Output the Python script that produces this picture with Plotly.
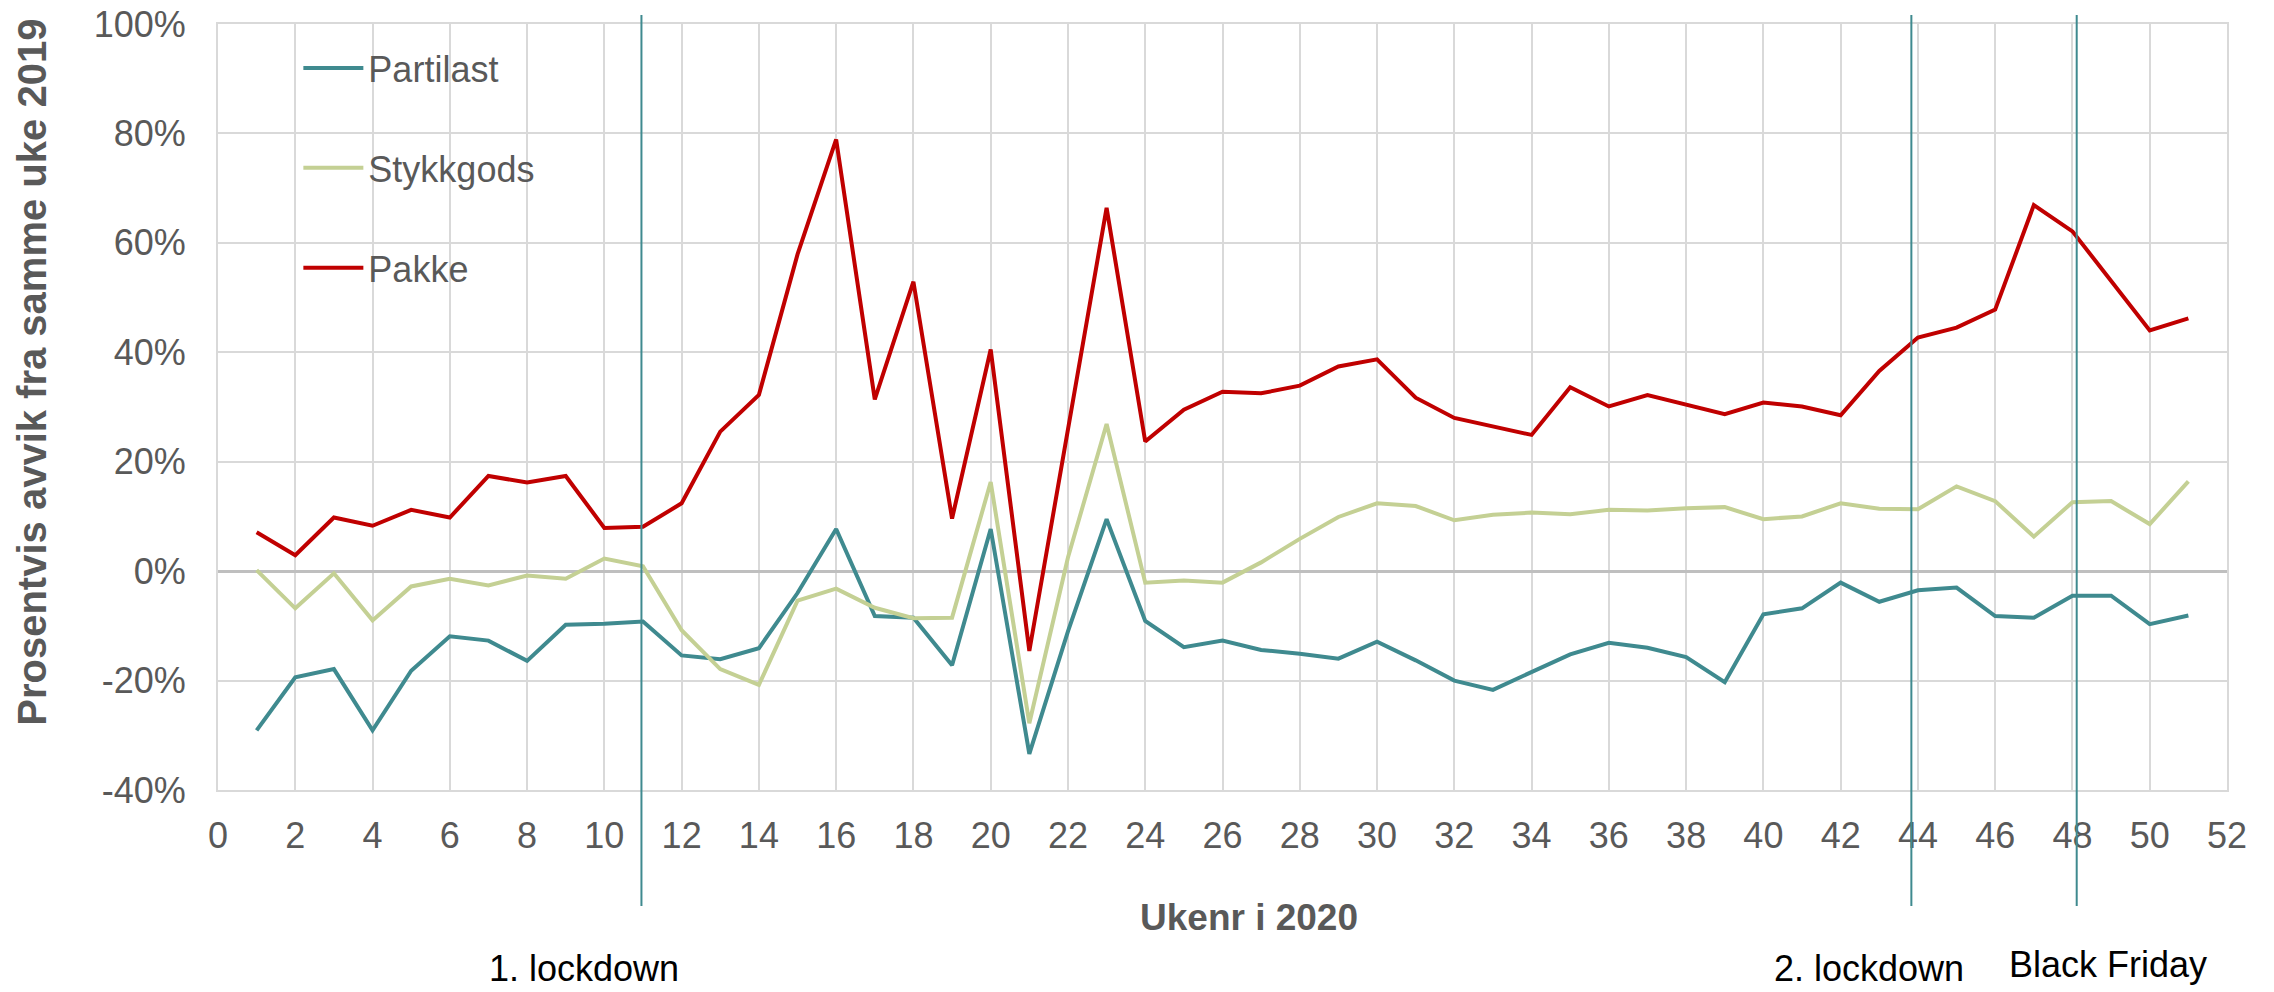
import plotly.graph_objects as go

weeks = list(range(1, 52))

partilast = [-29.1, -19.4, -17.9, -29.1, -18.2, -11.9, -12.7, -16.4, -9.8, -9.6,
             -9.2, -15.4, -16.1, -14.1, -4.0, 7.7, -8.2, -8.5, -17.2, 7.7,
             -33.4, -11.0, 9.5, -9.1, -13.9, -12.7, -14.4, -15.1, -16.0, -12.9,
             -16.3, -20.0, -21.7, -18.4, -15.2, -13.1, -14.0, -15.7, -20.3, -7.9,
             -6.8, -2.1, -5.6, -3.5, -3.0, -8.2, -8.5, -4.5, -4.5, -9.7,
             -8.1]

stykkgods = [0.2, -6.8, -0.4, -9.0, -2.8, -1.4, -2.6, -0.8, -1.4, 2.3,
             0.9, -10.8, -17.9, -20.8, -5.4, -3.2, -6.7, -8.6, -8.5, 16.3,
             -27.8, 2.5, 26.9, -2.1, -1.7, -2.1, 1.6, 5.9, 9.9, 12.4,
             11.9, 9.3, 10.3, 10.7, 10.4, 11.2, 11.1, 11.5, 11.7, 9.5,
             10.0, 12.4, 11.4, 11.3, 15.5, 12.8, 6.3, 12.6, 12.8, 8.6,
             16.4]

pakke = [7.1, 2.9, 9.8, 8.3, 11.2, 9.8, 17.4, 16.2, 17.4, 7.9,
         8.1, 12.4, 25.5, 32.2, 57.9, 78.9, 31.4, 52.9, 9.6, 40.5,
         -14.6, 26.0, 66.4, 23.7, 29.5, 32.8, 32.5, 33.9, 37.4, 38.7,
         31.7, 28.0, 26.4, 24.9, 33.6, 30.1, 32.2, 30.5, 28.7, 30.8,
         30.1, 28.5, 36.6, 42.7, 44.5, 47.8, 66.9, 62.1, 53.0, 44.0,
         46.2]

series_names = ["Partilast", "Stykkgods", "Pakke"]
series_colors = ["#3F8A8F", "#C4D094", "#C00000"]

event_weeks = [10.96, 43.83, 48.11]
event_labels = ["1. lockdown", "2. lockdown", "Black Friday"]

x_ticks = list(range(0, 53, 2))
y_ticks = list(range(-40, 101, 20))
y_ticktext = [f"{v}%" for v in y_ticks]

FONT = "Arial, Liberation Sans, sans-serif"
GRAY = "#595959"

fig = go.Figure()
for name, vals, col in zip(series_names, [partilast, stykkgods, pakke], series_colors):
    fig.add_trace(go.Scatter(
        x=weeks, y=vals, mode="lines", name=name, legendgroup=name,
        line=dict(color=col, width=4),
    ))

# event lines
for w in event_weeks:
    fig.add_shape(type="line", xref="x", yref="paper", x0=w, x1=w,
                  y0=-0.1514, y1=1.0117, line=dict(color="#3F8A8F", width=2),
                  layer="above")

# event labels
label_pos = [(0.1824, -0.2335), (0.8218, -0.2325), (0.9408, -0.2275)]
for (px, py), txt in zip(label_pos, event_labels):
    fig.add_annotation(text=txt, xref="paper", yref="paper", x=px, y=py,
                       xanchor="center", yanchor="middle", showarrow=False,
                       font=dict(family=FONT, size=36, color="#000000"))

# axis titles
fig.add_annotation(text="<b>Ukenr i 2020</b>", xref="paper", yref="paper",
                   x=0.513, y=-0.166, xanchor="center", yanchor="middle",
                   showarrow=False, font=dict(family=FONT, size=37, color=GRAY))
fig.add_annotation(text="<b>Prosentvis avvik fra samme uke 2019</b>", xref="paper", yref="paper",
                   x=-0.0926, y=0.546, xanchor="center", yanchor="middle", textangle=-90,
                   showarrow=False, font=dict(family=FONT, size=40, color=GRAY))

fig.update_layout(
    width=2274, height=992,
    margin=dict(l=218, r=47, t=24, b=202, autoexpand=False),
    paper_bgcolor="white", plot_bgcolor="white",
    font=dict(family=FONT, size=36, color=GRAY),
    showlegend=True,
    legend=dict(x=0.04, y=0.9815, xanchor="left", yanchor="top",
                bgcolor="rgba(0,0,0,0)", borderwidth=0,
                tracegroupgap=50, itemwidth=60,
                font=dict(family=FONT, size=36, color=GRAY)),
)
fig.update_xaxes(range=[0, 52], tickmode="array", tickvals=x_ticks,
                 showgrid=True, gridcolor="#D9D9D9", gridwidth=2,
                 showline=True, linecolor="#D9D9D9", linewidth=2, mirror=True,
                 zeroline=False, ticks="", ticklabelstandoff=13,
                 tickfont=dict(family=FONT, size=36, color=GRAY))
fig.update_yaxes(range=[-40, 100], tickmode="array", tickvals=y_ticks,
                 ticktext=y_ticktext, showgrid=True, gridcolor="#D9D9D9", gridwidth=2,
                 showline=True, linecolor="#D9D9D9", linewidth=2, mirror=True,
                 zeroline=True, zerolinecolor="#BFBFBF", zerolinewidth=3,
                 ticks="", ticklabelstandoff=23,
                 tickfont=dict(family=FONT, size=36, color=GRAY))

fig.write_html("out.html",
               config={"displayModeBar": False},
               post_script="document.body.style.margin='0';document.body.style.overflow='hidden';")
